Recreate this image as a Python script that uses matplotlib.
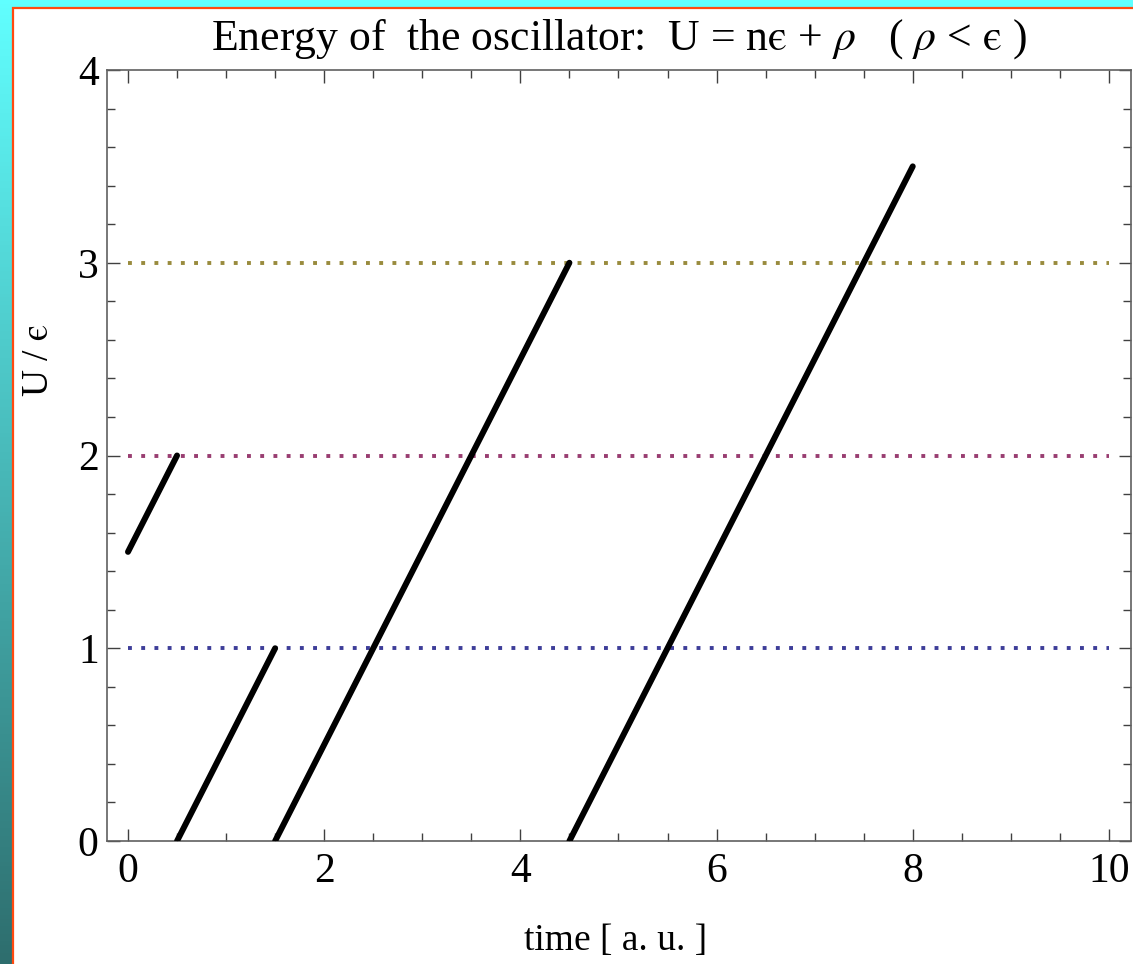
import numpy as np
import matplotlib
matplotlib.use("Agg")
from matplotlib import pyplot as plt
from matplotlib.patches import Rectangle

plt.rcParams['font.family'] = ['Liberation Serif', 'DejaVu Serif']
plt.rcParams['mathtext.fontset'] = 'stix'

# energy segments of the oscillator: (t_start, t_end, U_start, U_end)
seg_t0 = [0.0, 0.5, 1.5, 4.5]
seg_t1 = [0.5, 1.5, 4.5, 8.0]
seg_u0 = [1.5, 0.0, 0.0, 0.0]
seg_u1 = [2.0, 1.0, 3.0, 3.5]

# quantized levels n*eps
levels = [1, 2, 3]
level_colors = [(0.24, 0.24, 0.6), (0.6, 0.24, 0.442), (0.6, 0.547, 0.24)]
level_t = [0, 10]

xticks = [0, 2, 4, 6, 8, 10]
yticks = [0, 1, 2, 3, 4]

W, H = 1133, 964
fig = plt.figure(figsize=(W / 100, H / 100), dpi=100)

# cyan -> teal backdrop
bg = fig.add_axes([0, 0, 1, 1], zorder=-10)
grad = np.linspace(0, 1, 256)[:, None]
top = np.array([0.38, 1.0, 1.0])
bot = np.array([0.18, 0.43, 0.43])
img = top[None, None, :] * (1 - grad[..., None]) + bot[None, None, :] * grad[..., None]
bg.imshow(img, aspect='auto', extent=[0, 1, 0, 1])
bg.set_axis_off()

# white panel with orange-red edge
fig.patches.append(Rectangle((12.5 / W, -0.5), 2.0, 1.5 - 7.5 / H, transform=fig.transFigure,
                             facecolor='white', edgecolor='#ff4a10', linewidth=1.6, zorder=-5))

ax = fig.add_axes([107 / W, (H - 841) / H, 1024 / W, 771 / H])
ax.set_facecolor('none')

for lv, c in zip(levels, level_colors):
    ax.plot(level_t, [lv, lv], color=c, linewidth=2.8, linestyle=(0, (1, 2.4)))

for t0, t1, u0, u1 in zip(seg_t0, seg_t1, seg_u0, seg_u1):
    ax.plot([t0, t1], [u0, u1], color='black', linewidth=4.3, solid_capstyle='round', zorder=5)

ax.set_xlim(-0.214, 10.225)
ax.set_ylim(0, 4)
ax.set_xticks(xticks)
ax.set_yticks(yticks)
ax.set_xticks([v for v in np.arange(0.5, 10, 0.5) if v % 2 != 0], minor=True)
ax.set_yticks([v for v in np.arange(0.2, 4, 0.2) if abs(v - round(v)) > 1e-6], minor=True)

for sp in ax.spines.values():
    sp.set_color('#606060')
    sp.set_linewidth(1.2)
ax.tick_params(which='both', direction='in', top=True, right=True, color='#404040', width=1.0)
ax.tick_params(which='major', length=9, labelsize=30)
ax.tick_params(which='minor', length=5.5)
ax.tick_params(axis='x', pad=8)
ax.tick_params(axis='y', pad=6)

ax.set_title('Energy of  the oscillator:  U = n$\\mathrm{ϵ}$ + $\\rho$   ( $\\rho$ < $\\mathrm{ϵ}$ )',
             fontsize=31.5, y=1.027, pad=0)
ax.set_xlabel('time [ a. u. ]', fontsize=27, va='baseline')
ax.xaxis.set_label_coords(0.497, -0.141)
ax.set_ylabel('U / $\\mathrm{ϵ}$', fontsize=27, ha='center', va='center')
ax.yaxis.set_label_coords(-0.067, 0.624)

fig.savefig('out.png', dpi=100)
